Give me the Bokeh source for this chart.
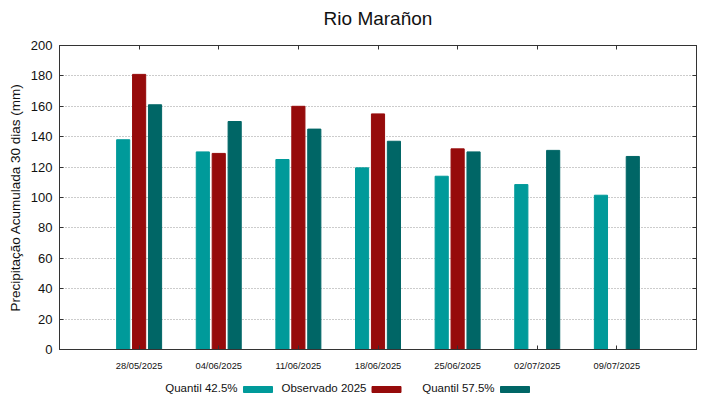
import numpy as np
from bokeh.plotting import figure
from bokeh.layouts import column
from bokeh.models import (ColumnDataSource, FactorRange, Range1d, CategoricalAxis, LinearAxis,
                          FixedTicker)
from bokeh.core.properties import value
from bokeh.transform import dodge
from bokeh.embed import file_html
from bokeh.resources import INLINE

title = "Rio Marañon"
ylabel = "Precipitação Acumulada 30 dias (mm)"
dates = ["28/05/2025", "04/06/2025", "11/06/2025", "18/06/2025", "25/06/2025", "02/07/2025", "09/07/2025"]
q425 = [138, 130, 125, 119.5, 114, 108.5, 101.5]
obs = [181, 129, 160, 155, 132, None, None]
q575 = [161, 150, 145, 137, 130, 131, 127]
yticks = list(range(0, 201, 20))
labels = ["Quantil 42.5%", "Observado 2025", "Quantil 57.5%"]
colors = ["#009a9a", "#960b0b", "#006666"]

FONT = "Liberation Sans"

src = ColumnDataSource(dict(
    date=dates, q425=q425,
    obs=[np.nan if v is None else v for v in obs],
    q575=q575))

p = figure(width=719, height=373, output_backend="svg", toolbar_location=None,
           x_range=FactorRange(*dates, range_padding=0.5, range_padding_units="absolute"),
           y_range=Range1d(0, 200),
           min_border_left=59, min_border_right=23, min_border_top=43, min_border_bottom=23)

p.title.text = title
p.title.align = "center"
p.title.text_font = FONT
p.title.text_font_size = "19px"
p.title.text_font_style = "normal"
p.title.text_color = "#111111"
p.title.standoff = 10

w = 0.165
r1 = p.vbar(x=dodge("date", -0.2, range=p.x_range), top="q425", width=w, source=src,
            fill_color=colors[0], line_color=colors[0])
r2 = p.vbar(x=dodge("date", 0.0, range=p.x_range), top="obs", width=w, source=src,
            fill_color=colors[1], line_color=colors[1])
r3 = p.vbar(x=dodge("date", 0.2, range=p.x_range), top="q575", width=w, source=src,
            fill_color=colors[2], line_color=colors[2])

axis_color = "#333333"
for ax in [p.xaxis[0], p.yaxis[0]]:
    ax.major_tick_in = 4
    ax.major_tick_out = 0
    ax.minor_tick_line_color = None
    ax.axis_line_color = axis_color
    ax.major_tick_line_color = axis_color
    ax.major_label_text_font = FONT
    ax.major_label_text_color = "#111111"

p.yaxis[0].ticker = FixedTicker(ticks=yticks)
p.yaxis[0].major_label_text_font_size = "13px"
p.yaxis[0].major_label_standoff = 7
p.yaxis[0].axis_label = ylabel
p.yaxis[0].axis_label_text_font = FONT
p.yaxis[0].axis_label_text_font_size = "13.5px"
p.yaxis[0].axis_label_text_font_style = "normal"
p.yaxis[0].axis_label_text_color = "#111111"
p.yaxis[0].axis_label_standoff = 5

p.xaxis[0].major_label_text_font_size = "9.3px"
p.xaxis[0].major_label_standoff = 11

# mirrored top axis: ticks only; a blank axis label reserves ~9px between frame and title
top_ax = CategoricalAxis(major_tick_in=4, major_tick_out=0, major_label_text_font_size="0px",
                         major_label_standoff=0, axis_label=" ",
                         axis_label_text_font_size="7px", axis_label_standoff=2,
                         axis_line_color=axis_color,
                         major_tick_line_color=axis_color, minor_tick_line_color=None)
p.add_layout(top_ax, "above")
right_ax = LinearAxis(ticker=FixedTicker(ticks=yticks), major_tick_in=4, major_tick_out=0,
                      major_label_text_font_size="0px", major_label_standoff=0,
                      axis_line_color=axis_color, major_tick_line_color=axis_color,
                      minor_tick_line_color=None)
p.add_layout(right_ax, "right")

p.outline_line_color = axis_color
p.xgrid.visible = False
p.ygrid.ticker = FixedTicker(ticks=yticks)
p.ygrid.grid_line_color = "#999999"
p.ygrid.grid_line_dash = "1 2"
p.ygrid.grid_line_width = 1

# legend strip below the chart; its frame is aligned with the chart frame (59..696 px)
leg_h = 26
pl = figure(width=719, height=leg_h, output_backend="svg", toolbar_location=None,
            x_range=Range1d(59, 696), y_range=Range1d(0, leg_h),
            min_border=0, min_border_left=59, min_border_right=23,
            x_axis_type=None, y_axis_type=None)
pl.outline_line_color = None
pl.grid.visible = False
text_right = [237, 366, 494]
sample_cx = [257.5, 386, 514.5]
pl.text(x=text_right, y=[12] * 3, text=labels, text_align="right", text_baseline="middle",
        text_font=value(FONT), text_font_size="11.5px", text_color="#111111")
pl.rect(x=sample_cx, y=[10] * 3, width=29, height=6, fill_color=colors, line_color=colors)

layout = column(p, pl, spacing=0)
open("out.html", "w").write(file_html(layout, INLINE))
